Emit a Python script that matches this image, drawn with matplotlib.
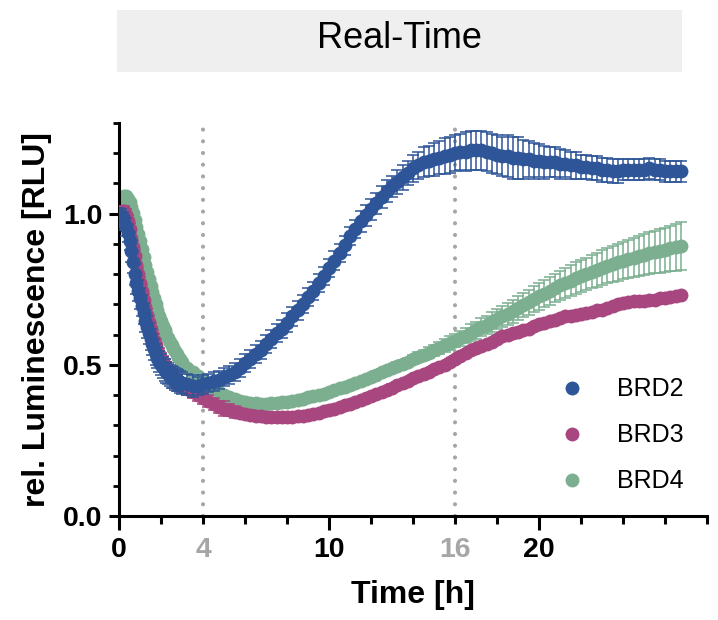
import matplotlib
matplotlib.use("Agg")
import matplotlib.pyplot as plt
from matplotlib.patches import Rectangle
from matplotlib.lines import Line2D

plt.rcParams['font.family'] = ['Liberation Sans', 'DejaVu Sans']

# ---------------- data ----------------
# sampling: every 5 min for the first 3 h, then every 15 min
time_h = [round(i / 12, 4) for i in range(36)] + [3 + 0.25 * i for i in range(96)]

brd2 = [1.00, 0.995, 0.985, 0.97, 0.955, 0.935, 0.91, 0.875, 0.84, 0.80,
        0.77, 0.745, 0.72, 0.695, 0.67, 0.645, 0.625, 0.605, 0.585, 0.568,
        0.551, 0.535, 0.523, 0.511, 0.50, 0.492, 0.483, 0.475, 0.47, 0.465,
        0.46, 0.457, 0.453, 0.45, 0.447, 0.443,
        0.44, 0.435, 0.43, 0.43, 0.435, 0.44, 0.445, 0.45,
        0.46, 0.465, 0.475, 0.49, 0.505, 0.52, 0.535, 0.55, 0.57, 0.585,
        0.605, 0.62, 0.64, 0.66, 0.68, 0.70, 0.725, 0.745, 0.77, 0.795,
        0.82, 0.845, 0.87, 0.895, 0.925, 0.95, 0.975, 0.995, 1.015, 1.035,
        1.055, 1.075, 1.09, 1.105, 1.12, 1.135, 1.15, 1.16, 1.17, 1.175,
        1.18, 1.185, 1.19, 1.195, 1.20, 1.205, 1.205, 1.21, 1.21, 1.21,
        1.205, 1.20, 1.195, 1.19, 1.19, 1.185, 1.185, 1.18, 1.18, 1.175,
        1.175, 1.17, 1.17, 1.17, 1.165, 1.165, 1.16, 1.16, 1.155, 1.155,
        1.15, 1.15, 1.145, 1.145, 1.14, 1.14, 1.145, 1.145, 1.145, 1.145,
        1.145, 1.15, 1.145, 1.145, 1.14, 1.14, 1.14, 1.14]
brd2_err = [0.02, 0.02, 0.02, 0.025, 0.03, 0.03, 0.03, 0.035, 0.035, 0.035,
            0.035, 0.035, 0.035, 0.035, 0.035, 0.035, 0.035, 0.035, 0.035, 0.035,
            0.035, 0.035, 0.035, 0.035, 0.035, 0.035, 0.035, 0.035, 0.035, 0.035,
            0.035, 0.035, 0.035, 0.035, 0.035, 0.035,
            0.035, 0.035, 0.035, 0.03, 0.03, 0.03, 0.03, 0.03,
            0.03, 0.03, 0.03, 0.03, 0.03, 0.03, 0.03, 0.03, 0.03, 0.03,
            0.03, 0.03, 0.03, 0.03, 0.03, 0.03, 0.03, 0.03, 0.03, 0.03,
            0.03, 0.03, 0.03, 0.03, 0.03, 0.03, 0.035, 0.035, 0.035, 0.035,
            0.035, 0.035, 0.035, 0.04, 0.04, 0.04, 0.045, 0.045, 0.05, 0.05,
            0.055, 0.055, 0.06, 0.06, 0.06, 0.06, 0.065, 0.065, 0.065, 0.065,
            0.065, 0.065, 0.065, 0.065, 0.07, 0.07, 0.07, 0.065, 0.06, 0.06,
            0.055, 0.055, 0.05, 0.05, 0.05, 0.045, 0.045, 0.045, 0.04, 0.04,
            0.04, 0.04, 0.04, 0.04, 0.04, 0.04, 0.035, 0.035, 0.035, 0.035,
            0.035, 0.035, 0.035, 0.035, 0.035, 0.035, 0.035, 0.035]

brd3 = [1.00, 1.005, 1.01, 1.01, 0.995, 0.975, 0.95, 0.92, 0.89, 0.86,
        0.83, 0.80, 0.77, 0.743, 0.716, 0.69, 0.666, 0.643, 0.62, 0.601,
        0.583, 0.565, 0.55, 0.535, 0.52, 0.51, 0.50, 0.49, 0.481, 0.473,
        0.465, 0.458, 0.451, 0.445, 0.44, 0.435,
        0.43, 0.42, 0.41, 0.40, 0.39, 0.38, 0.37, 0.362,
        0.355, 0.35, 0.345, 0.34, 0.337, 0.335, 0.332, 0.33, 0.328, 0.327,
        0.326, 0.326, 0.327, 0.328, 0.33, 0.332, 0.335, 0.338, 0.342, 0.346,
        0.35, 0.355, 0.36, 0.366, 0.372, 0.378, 0.384, 0.39, 0.397, 0.404,
        0.411, 0.418, 0.425, 0.432, 0.44, 0.447, 0.455, 0.462, 0.47, 0.477,
        0.485, 0.493, 0.50, 0.51, 0.52, 0.53, 0.54, 0.548, 0.555, 0.562,
        0.568, 0.575, 0.585, 0.595, 0.60, 0.606, 0.61, 0.615, 0.62, 0.628,
        0.635, 0.64, 0.645, 0.65, 0.655, 0.66, 0.662, 0.665, 0.668, 0.672,
        0.676, 0.68, 0.683, 0.688, 0.694, 0.70, 0.704, 0.708, 0.71, 0.712,
        0.712, 0.714, 0.716, 0.72, 0.722, 0.724, 0.728, 0.73]
brd3_err = [0.01, 0.01, 0.015, 0.015, 0.02, 0.02, 0.02, 0.02, 0.02, 0.02,
            0.02, 0.02, 0.02, 0.02, 0.02, 0.02, 0.02, 0.02, 0.02, 0.02,
            0.02, 0.02, 0.02, 0.02, 0.02, 0.02, 0.02, 0.02, 0.02, 0.02,
            0.02, 0.02, 0.02, 0.02, 0.02, 0.02,
            0.02, 0.02, 0.02, 0.02, 0.02, 0.02, 0.02, 0.02,
            0.025, 0.02, 0.02, 0.015, 0.015, 0.015, 0.015, 0.01, 0.01, 0.01,
            0.01, 0.01, 0.01, 0.01, 0.01, 0.01, 0.01, 0.01, 0.01, 0.01,
            0.01, 0.01, 0.01, 0.01, 0.01, 0.01, 0.01, 0.01, 0.01, 0.01,
            0.01, 0.01, 0.01, 0.01, 0.01, 0.01, 0.01, 0.01, 0.01, 0.01,
            0.01, 0.01, 0.01, 0.01, 0.01, 0.01, 0.01, 0.01, 0.01, 0.01,
            0.01, 0.01, 0.01, 0.01, 0.01, 0.01, 0.01, 0.01, 0.01, 0.01,
            0.01, 0.01, 0.01, 0.01, 0.01, 0.01, 0.01, 0.01, 0.01, 0.01,
            0.01, 0.01, 0.01, 0.01, 0.01, 0.01, 0.01, 0.01, 0.01, 0.01,
            0.01, 0.01, 0.01, 0.01, 0.01, 0.01, 0.01, 0.01]

brd4 = [1.03, 1.045, 1.055, 1.06, 1.058, 1.05, 1.04, 1.022, 1.002, 0.98,
        0.957, 0.934, 0.91, 0.883, 0.857, 0.83, 0.807, 0.783, 0.76, 0.74,
        0.72, 0.70, 0.681, 0.663, 0.645, 0.63, 0.615, 0.60, 0.588, 0.576,
        0.565, 0.555, 0.545, 0.535, 0.527, 0.518,
        0.51, 0.49, 0.475, 0.462, 0.45, 0.435, 0.42, 0.41,
        0.40, 0.393, 0.387, 0.382, 0.378, 0.375, 0.373, 0.372, 0.372, 0.373,
        0.374, 0.376, 0.378, 0.381, 0.384, 0.388, 0.392, 0.396, 0.40, 0.405,
        0.41, 0.416, 0.422, 0.428, 0.434, 0.44, 0.447, 0.454, 0.461, 0.468,
        0.475, 0.482, 0.489, 0.496, 0.503, 0.51, 0.518, 0.525, 0.532, 0.54,
        0.548, 0.556, 0.564, 0.572, 0.58, 0.588, 0.597, 0.606, 0.615, 0.624,
        0.633, 0.642, 0.651, 0.66, 0.669, 0.678, 0.687, 0.697, 0.707, 0.717,
        0.727, 0.736, 0.745, 0.754, 0.763, 0.771, 0.779, 0.787, 0.794, 0.801,
        0.808, 0.815, 0.822, 0.828, 0.834, 0.84, 0.845, 0.85, 0.855, 0.86,
        0.865, 0.869, 0.873, 0.877, 0.881, 0.885, 0.889, 0.893]
brd4_err = [0.01, 0.01, 0.01, 0.01, 0.01, 0.01, 0.01, 0.01, 0.01, 0.01,
            0.01, 0.01, 0.01, 0.01, 0.01, 0.01, 0.01, 0.01, 0.01, 0.01,
            0.01, 0.01, 0.01, 0.01, 0.01, 0.01, 0.01, 0.01, 0.01, 0.01,
            0.01, 0.01, 0.01, 0.01, 0.01, 0.01,
            0.01, 0.01, 0.01, 0.01, 0.01, 0.01, 0.01, 0.01,
            0.01, 0.01, 0.01, 0.01, 0.01, 0.01, 0.01, 0.01, 0.01, 0.01,
            0.01, 0.01, 0.01, 0.01, 0.01, 0.01, 0.01, 0.01, 0.01, 0.01,
            0.01, 0.01, 0.01, 0.01, 0.01, 0.01, 0.01, 0.01, 0.01, 0.01,
            0.01, 0.01, 0.01, 0.012, 0.012, 0.014, 0.014, 0.016, 0.016, 0.018,
            0.018, 0.02, 0.02, 0.022, 0.022, 0.025, 0.025, 0.028, 0.028, 0.03,
            0.03, 0.032, 0.034, 0.035, 0.036, 0.038, 0.04, 0.04, 0.042, 0.043,
            0.044, 0.045, 0.046, 0.047, 0.048, 0.05, 0.05, 0.052, 0.053, 0.054,
            0.055, 0.056, 0.057, 0.058, 0.06, 0.061, 0.062, 0.064, 0.065, 0.066,
            0.068, 0.069, 0.07, 0.072, 0.073, 0.075, 0.077, 0.078]

series_names = ["BRD2", "BRD3", "BRD4"]
series_colors = ["#2E5597", "#A8467F", "#7BAF8F"]

x_major = [0, 10, 20]
x_minor = [2, 4, 6, 8, 12, 14, 16, 18, 22, 24, 26, 28]
x_minor_labels = ["", "4", "", "", "", "", "16", "", "", "", "", ""]
y_major = [0.0, 0.5, 1.0]
y_major_labels = ["0.0", "0.5", "1.0"]
y_minor = [0.1, 0.2, 0.3, 0.4, 0.6, 0.7, 0.8, 0.9, 1.1, 1.2, 1.3]
marker_lines = [4, 16]

# ---------------- figure ----------------
fig = plt.figure(figsize=(7.18, 6.2), dpi=100)
ax = fig.add_axes([119/718, 1 - 516/620, 588/718, 393/620])

# title banner
fig.patches.append(Rectangle((117/718, 1 - 72/620), 565/718, 62/620,
                             transform=fig.transFigure, facecolor="#EFEFEF",
                             edgecolor="none", zorder=0))
fig.text(399/718, 1 - 39/620, "Real-Time", ha="center", va="center",
         fontsize=26, color="black")

# dotted reference lines
for xv in marker_lines:
    ax.plot([xv, xv], [0, 1.3], color="#A6A6A6", lw=3,
            linestyle=(0, (0.01, 2.8)), dash_capstyle="round", zorder=1,
            clip_on=False)

data = [(brd2, brd2_err), (brd3, brd3_err), (brd4, brd4_err)]
zorders = [6, 4, 2]
for (vals, errs), name, col, z in zip(data, series_names, series_colors, zorders):
    ax.errorbar(time_h, vals, yerr=errs, fmt="none", ecolor=col,
                elinewidth=1.1, capsize=4.5, capthick=1.1, zorder=z)
    ax.plot(time_h, vals, "o", color=col, ms=10, mec="none", zorder=z + 0.5,
            label=name)

ax.set_xlim(0, 28)
ax.set_ylim(0, 1.3)

for s in ["top", "right"]:
    ax.spines[s].set_visible(False)
for s in ["left", "bottom"]:
    ax.spines[s].set_linewidth(2.2)

ax.set_xticks(x_major)
ax.set_xticklabels([str(v) for v in x_major])
ax.set_xticks(x_minor, minor=True)
ax.set_xticklabels(x_minor_labels, minor=True)
ax.set_yticks(y_major)
ax.set_yticklabels(y_major_labels)
ax.set_yticks(y_minor, minor=True)

ax.tick_params(axis="x", which="major", length=10, width=2.2, labelsize=20.5,
               pad=5)
ax.tick_params(axis="x", which="minor", length=6, width=2.2, labelsize=20.5,
               pad=9, labelcolor="#A6A6A6")
ax.tick_params(axis="y", which="major", length=7, width=2.2, labelsize=20.5,
               pad=5)
ax.tick_params(axis="y", which="minor", length=4, width=2.0)
for lbl in ax.get_xticklabels() + ax.get_yticklabels() + ax.get_xticklabels(minor=True):
    lbl.set_fontweight("bold")

ax.set_xlabel("Time [h]", fontsize=23, fontweight="bold", labelpad=12)
ax.set_ylabel("rel. Luminescence [RLU]", fontsize=23, fontweight="bold",
              labelpad=8)

handles = [Line2D([], [], marker="o", ls="none", color=c, ms=10, mec="none")
           for c in series_colors]
leg = ax.legend(handles, series_names, loc="upper left",
                bbox_to_anchor=(547/718, 1 - 365/620),
                bbox_transform=fig.transFigure, frameon=False, fontsize=18,
                handlelength=1.0, handletextpad=1.3, labelspacing=0.88,
                borderpad=0)

fig.savefig("out.png", dpi=100)
